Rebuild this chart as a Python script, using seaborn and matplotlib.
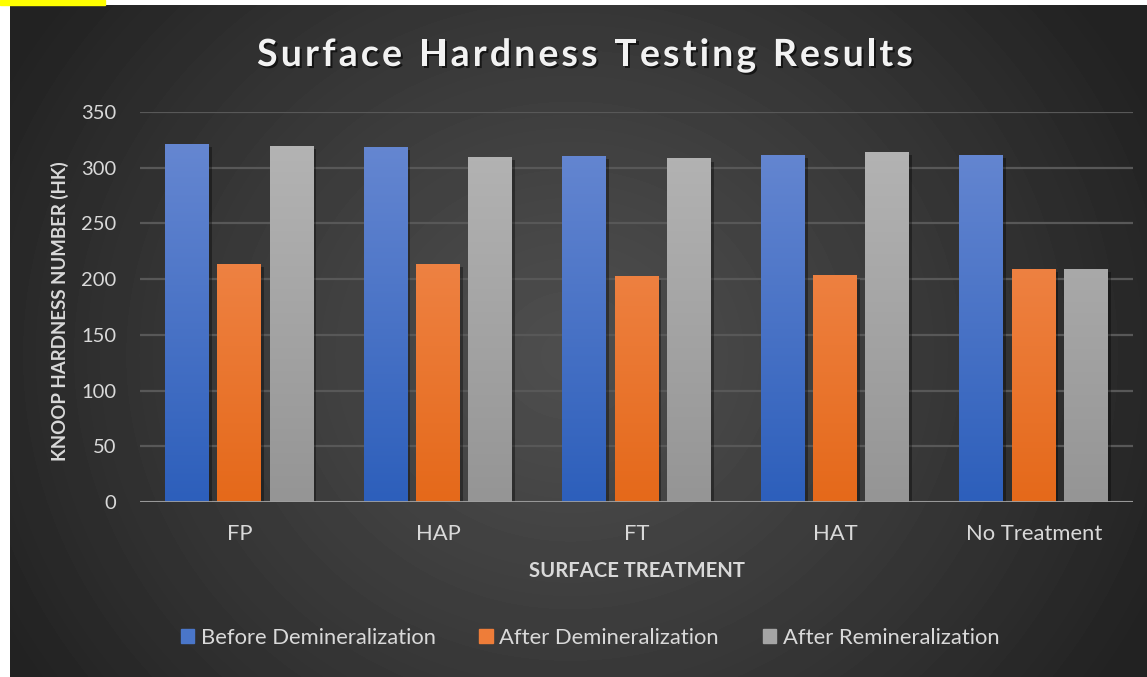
import matplotlib
matplotlib.use("Agg")
import matplotlib.pyplot as plt
import matplotlib.patheffects as pe
from matplotlib.colors import LinearSegmentedColormap
from matplotlib.patches import Rectangle
import numpy as np
import pandas as pd
import seaborn as sns

# ── data ─────────────────────────────────────────────────────────
treatments = ["FP", "HAP", "FT", "HAT", "No Treatment"]
before_demin = [321, 318, 310, 311, 311]
after_demin = [213, 213, 202, 203, 209]
after_remin = [319, 309, 308, 314, 209]
series_names = ["Before Demineralization", "After Demineralization", "After Remineralization"]
y_ticks = [0, 50, 100, 150, 200, 250, 300, 350]
title = "Surface Hardness Testing Results"

# ── styling ──────────────────────────────────────────────────────
mid_colors = ["#4a76c9", "#ee7d39", "#a5a5a5"]
grad_top = ["#6a8ad3", "#f4915c", "#b6b6b6"]
grad_bottom = ["#2d5fbb", "#e5691a", "#959595"]
text_color = "#d9d9d9"
W, H = 1147, 677

df = pd.DataFrame({
    "treatment": treatments * 3,
    "value": before_demin + after_demin + after_remin,
    "series": [s for s in series_names for _ in treatments],
})

sns.set_theme(style="dark")
plt.rcParams["font.family"] = ["Lato", "DejaVu Sans"]

fig = plt.figure(figsize=(W / 100, H / 100), dpi=100, facecolor="white")

# dark panel with radial gradient
bg = fig.add_axes([10 / W, 0, (W - 10) / W, (H - 5) / H], zorder=-10)
ph, pw = H - 5, W - 10
yy, xx = np.mgrid[0:ph, 0:pw]
r = np.hypot(xx - 560, (yy - 350) * 1.1) / 640
val = 0.305 - 0.17 * np.clip(r, 0, 1) ** 1.2
bg.imshow(val, cmap="gray", vmin=0, vmax=1, aspect="auto", interpolation="bilinear")
bg.axis("off")

# yellow marker in the top-left corner
fig.patches.append(Rectangle((0, (H - 5) / H), 105 / W, 5 / H,
                             transform=fig.transFigure, color="#ffff00", zorder=-5))

ax = fig.add_axes([140 / W, 175 / H, 993 / W, 390 / H])
ax.patch.set_alpha(0)

sns.barplot(data=df, x="treatment", y="value", hue="series", palette=mid_colors,
            width=0.79, gap=0.16, saturation=1, errorbar=None, legend=False,
            linewidth=0, edgecolor="none", ax=ax)

# vertical gradients on bars
for i, cont in enumerate(ax.containers):
    cmap = LinearSegmentedColormap.from_list(f"g{i}", [grad_bottom[i], grad_top[i]])
    for bar in cont:
        x0, bw, h = bar.get_x(), bar.get_width(), bar.get_height()
        bar.set_path_effects([pe.SimplePatchShadow(offset=(2, -2), shadow_rgbFace="black", alpha=0.35),
                              pe.Normal()])
        grad = np.linspace(0, h / 350, 128)[:, None]
        ax.imshow(grad, cmap=cmap, vmin=0, vmax=1, origin="lower", aspect="auto",
                  extent=(x0, x0 + bw, 0, h), zorder=bar.get_zorder() + 0.1,
                  interpolation="bilinear")

ax.set_xlim(-0.5, len(treatments) - 0.5)
ax.set_ylim(0, 350)
ax.set_yticks(y_ticks)
ax.yaxis.grid(True, color="#585858", lw=1.6)
ax.set_axisbelow(True)
for s in ax.spines.values():
    s.set_visible(False)
ax.axhline(0, color="#a0a0a0", lw=2, zorder=6)
ax.tick_params(colors=text_color, length=0)
ax.tick_params(axis="y", pad=17, labelsize=14.5)
ax.tick_params(axis="x", pad=16, labelsize=15.8)

ax.set_xlabel("SURFACE TREATMENT", fontsize=14.6, fontweight="bold", color=text_color)
ax.set_ylabel("KNOOP HARDNESS NUMBER (HK)", fontsize=13.4, fontweight="bold", color=text_color)
ax.xaxis.set_label_coords(0.5, -0.152)
ax.yaxis.set_label_coords(-0.072, 0.49)

# title, drawn letter by letter to get the wide tracking
renderer = fig.canvas.get_renderer()
shadow = [pe.withSimplePatchShadow(offset=(1.5, -1.5), shadow_rgbFace="black", alpha=0.6)]
tracking = 3.1
widths = []
for ch in title:
    t = fig.text(0, 0, ch if ch != " " else "n", fontsize=27, fontweight="bold")
    w = t.get_window_extent(renderer).width
    widths.append(w * (0.5 if ch == " " else 1))
    t.remove()
total = sum(widths) + tracking * (len(title) - 1)
x = 585 - total / 2
for ch, w in zip(title, widths):
    if ch != " ":
        fig.text(x / W, 1 - 55 / H, ch, ha="left", va="center", fontsize=27,
                 fontweight="bold", color="#f2f2f2", path_effects=shadow)
    x += w + tracking

handles = [Rectangle((0, 0), 1, 1, color=c) for c in mid_colors]
fig.legend(handles, series_names, loc="center", bbox_to_anchor=(590 / W, 39 / H), ncol=3,
           frameon=False, fontsize=15.8, labelcolor=text_color, handlelength=0.6,
           handleheight=0.6, handletextpad=0.3, columnspacing=2.0)

fig.savefig("out.png", dpi=100)
